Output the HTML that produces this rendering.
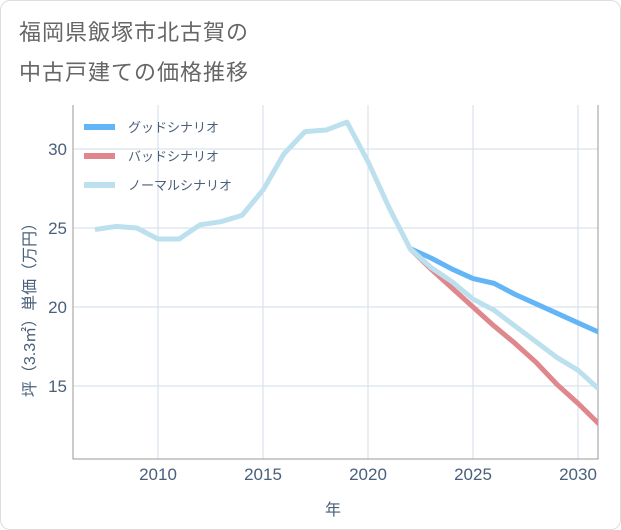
<!DOCTYPE html>
<html><head><meta charset="utf-8"><style>
body{margin:0;background:#fff;font-family:"Liberation Sans","Noto Sans CJK JP",sans-serif}
#wrap{position:relative;width:619px;height:528px;border:1px solid #ddd;border-radius:10px;overflow:hidden}
.t{position:absolute;left:18px;font-size:22px;color:#666;letter-spacing:1px}
</style></head><body>
<div id="wrap">
<div class="t" style="top:14px">福岡県飯塚市北古賀の</div>
<div class="t" style="top:54px">中古戸建ての価格推移</div>
<svg id="c" width="621" height="530" style="position:absolute;left:0;top:0"></svg>
</div>
<script>
const years=[2007,2008,2009,2010,2011,2012,2013,2014,2015,2016,2017,2018,2019,2020,2021,2022,2023,2024,2025,2026,2027,2028,2029,2030,2031];
const normal=[24.9,25.1,25.0,24.3,24.3,25.2,25.4,25.8,27.4,29.7,31.1,31.2,31.7,29.2,26.3,23.7,22.5,21.6,20.5,19.8,18.8,17.8,16.8,16.0,14.8];
const goodYears=[2022,2023,2024,2025,2026,2027,2028,2029,2030,2031];
const good=[23.7,23.1,22.4,21.8,21.5,20.8,20.2,19.6,19.0,18.4];
const bad=[23.7,22.4,21.2,20.0,18.8,17.7,16.5,15.1,13.9,12.6];
const xTicks=[2010,2015,2020,2025,2030];
const yTicks=[15,20,25,30];
const NS="http://www.w3.org/2000/svg";
const svg=document.getElementById('c');
const L=72,R=597,T=104,B=458;
const TC='#4a5f7a';
const x=v=>157+(v-2010)*21;
const y=v=>148+(30-v)*15.8;
function mk(t,a){const e=document.createElementNS(NS,t);for(const k in a)e.setAttribute(k,a[k]);svg.appendChild(e);return e;}
const clip=mk('clipPath',{id:'cp'});
const cr=document.createElementNS(NS,'rect');cr.setAttribute('x',L);cr.setAttribute('y',T);cr.setAttribute('width',R-L);cr.setAttribute('height',B-T);clip.appendChild(cr);
xTicks.forEach(v=>{
const g=mk('line',{x1:x(v),x2:x(v),y1:T,y2:B,stroke:'#d3ddea','stroke-width':1});


const t=mk('text',{x:x(v),y:479,'text-anchor':'middle','font-size':17,fill:TC});t.textContent=v;


});
yTicks.forEach(v=>{
const g=mk('line',{x1:L,x2:R,y1:y(v),y2:y(v),stroke:'#d3ddea','stroke-width':1});


const t=mk('text',{x:66,y:y(v)+6,'text-anchor':'end','font-size':17,fill:TC});t.textContent=v;


});
const ax=mk('path',{d:`M${L},${T}V${B}H${R}V${T}`,fill:'none',stroke:'#999','stroke-width':1});


function line(xs,vs,col,name){
const p=mk('path',{d:xs.map((v,i)=>(i?'L':'M')+x(v)+','+y(vs[i])).join(''),fill:'none',stroke:col,'stroke-width':5,'stroke-linejoin':'round','clip-path':'url(#cp)'});


}
line(goodYears,good,'#64b5f6','good-scenario-line');
line(goodYears,bad,'#e0868d','bad-scenario-line');
line(years,normal,'#bde0ee','normal-scenario-line');
const leg=[['グッドシナリオ','#64b5f6'],['バッドシナリオ','#e0868d'],['ノーマルシナリオ','#bde0ee']];
leg.forEach((l,i)=>{
const yy=126+i*29;
const s=mk('line',{x1:83,x2:114,y1:yy,y2:yy,stroke:l[1],'stroke-width':6});


const t=mk('text',{x:127,y:yy+5,'font-size':13,fill:TC});t.textContent=l[0];


});
const xt=mk('text',{x:332,y:514,'text-anchor':'middle','font-size':16,fill:TC});xt.textContent='年';


const yt=mk('text',{x:0,y:0,'text-anchor':'middle','font-size':16,fill:TC,transform:'translate(34,305) rotate(-90)'});yt.textContent='坪（3.3㎡）単価（万円）';


</script>
</body></html>
